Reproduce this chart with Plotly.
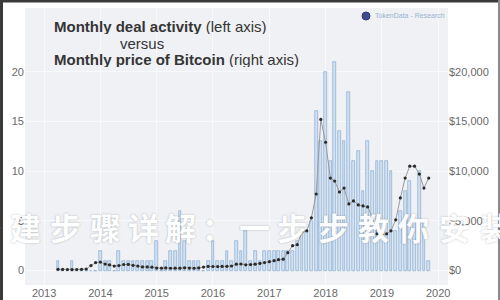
import plotly.graph_objects as go
import pandas as pd

# ---------------- data ----------------
first_month = "2013-04-01"
last_month = "2019-11-01"

deals_2013 = [1, 0, 0, 1, 0, 0, 0, 0, 0]
deals_2014 = [2, 1, 1, 0, 2, 1, 1, 1, 1, 1, 1, 1]
deals_2015 = [3, 0, 1, 2, 2, 6, 3, 1, 1, 1, 0, 1]
deals_2016 = [3, 1, 1, 2, 1, 3, 2, 4, 1, 2, 1, 2]
deals_2017 = [2, 2, 2, 2, 2, 2, 3, 4, 4, 5, 16, 13]
deals_2018 = [20, 11, 21, 14, 13, 18, 11, 12, 8, 13, 10, 11]
deals_2019 = [11, 11, 10, 4, 6, 8, 9, 5, 10, 5, 1]

price_2013 = [130, 120, 110, 90, 110, 130, 160, 500, 800]
price_2014 = [850, 650, 580, 450, 500, 610, 620, 530, 450, 370, 370, 340]
price_2015 = [250, 240, 270, 235, 237, 237, 280, 250, 235, 265, 350, 420]
price_2016 = [410, 400, 415, 430, 460, 640, 660, 580, 605, 640, 720, 800]
price_2017 = [900, 1000, 1100, 1150, 1800, 2500, 2600, 3900, 4000, 5300, 7700, 15200]
price_2018 = [12900, 9300, 9000, 7900, 8300, 6700, 7000, 6600, 6500, 6400, 5300, 3700]
price_2019 = [3600, 3700, 4000, 5100, 7300, 9300, 10500, 10500, 9700, 8300, 9300]

year_ticks = ["2013", "2014", "2015", "2016", "2017", "2018", "2019", "2020"]
left_ticks = [0, 5, 10, 15, 20]
right_ticks = [0, 5000, 10000, 15000, 20000]
right_tick_labels = ["$0", "$5,000", "$10,000", "$15,000", "$20,000"]

title_line1_bold = "Monthly deal activity"
title_line1_rest = " (left axis)"
title_line2 = "versus"
title_line3_bold = "Monthly price of Bitcoin"
title_line3_rest = " (right axis)"
logo_text = "TokenData - Research"
watermark_chars = ["搭", "建", "步", "骤", "详", "解", "：", "一", "步", "步", "教", "你", "安", "装"]

# ---------------- build ----------------
months = pd.date_range(first_month, last_month, freq="MS")
deals = deals_2013 + deals_2014 + deals_2015 + deals_2016 + deals_2017 + deals_2018 + deals_2019
prices = price_2013 + price_2014 + price_2015 + price_2016 + price_2017 + price_2018 + price_2019

W, H = 500, 300
ML, MR, MT, MB = 25, 52, 8, 15
PW, PH = W - ML - MR, H - MT - MB


def px_x(px):
    return (px - ML) / PW


def px_y(py):
    return (H - MB - py) / PH


fig = go.Figure()
fig.add_trace(go.Bar(
    x=months, y=deals, yaxis="y",
    width=18 * 86400000,
    marker=dict(color="#cfe0f1", line=dict(color="#7ea3cc", width=0.6)),
    showlegend=False,
))
fig.add_trace(go.Scatter(
    x=months, y=prices, yaxis="y2", mode="lines+markers",
    line=dict(color="#9a9a9a", width=1),
    marker=dict(color="#2b2b2b", size=3.2),
    showlegend=False,
))

font_txt = "Liberation Sans, Arial, sans-serif"
tick_color = "#6a6a6a"

fig.update_layout(
    width=W, height=H, autosize=False,
    margin=dict(l=ML, r=MR, t=MT, b=MB, pad=0),
    paper_bgcolor="white", plot_bgcolor="#eff1f4",
    font=dict(family=font_txt, color=tick_color, size=11),
    bargap=0,
    xaxis=dict(
        type="date", range=["2012-08-30", "2020-03-05"],
        tickvals=[y + "-01-01" for y in year_ticks], ticktext=year_ticks,
        showgrid=True, gridcolor="#f8f9fb", gridwidth=1,
        zeroline=False, showline=False, ticks="", ticklen=0,
        automargin=False, color=tick_color,
        tickfont=dict(size=11, color=tick_color),
    ),
    yaxis=dict(
        range=[-1.45, 26.4], tickvals=left_ticks,
        showgrid=True, gridcolor="#f8f9fb", gridwidth=1,
        zeroline=False, showline=False, ticks="", automargin=False,
        color=tick_color,
        tickfont=dict(size=11, color=tick_color),
    ),
    yaxis2=dict(
        range=[-1450, 26400], tickvals=right_ticks, ticktext=right_tick_labels,
        overlaying="y", side="right", showgrid=False, zeroline=False,
        showline=False, ticks="", automargin=False, color=tick_color,
        tickfont=dict(size=11, color=tick_color),
    ),
)

ann = []
title_color = "#353535"
ann.append(dict(x=px_x(52), y=px_y(25.5), xref="paper", yref="paper", xanchor="left", yanchor="middle",
                text="<b>" + title_line1_bold + "</b>" + title_line1_rest, showarrow=False, height=16,
                font=dict(family=font_txt, size=15, color=title_color)))
ann.append(dict(x=px_x(141.5), y=px_y(42.5), xref="paper", yref="paper", xanchor="center", yanchor="middle",
                text=title_line2, showarrow=False, height=16,
                font=dict(family=font_txt, size=15, color=title_color)))
ann.append(dict(x=px_x(52), y=px_y(59.5), xref="paper", yref="paper", xanchor="left", yanchor="middle",
                text="<b>" + title_line3_bold + "</b>" + title_line3_rest, showarrow=False, height=16,
                font=dict(family=font_txt, size=15, color=title_color)))
ann.append(dict(x=px_x(373), y=px_y(16), xref="paper", yref="paper", xanchor="left", yanchor="middle",
                text=logo_text, showarrow=False,
                font=dict(family=font_txt, size=7, color="#9bb2d0")))

# watermark characters
wm_centers = [-15, 25, 65, 105, 143, 180, 217, 254, 292, 333, 373, 413, 455, 495]
for ch, cx in zip(watermark_chars, wm_centers):
    ann.append(dict(x=px_x(cx), y=px_y(226), xref="paper", yref="paper", xanchor="center", yanchor="middle",
                    text="<b>" + ch + "</b>", showarrow=False, opacity=0.93,
                    font=dict(family="Noto Sans CJK SC", size=31, color="white",
                              shadow="0px 0px 2px rgba(0,0,0,0.3)")))
fig.update_layout(annotations=ann)

shapes = [
    # logo circle
    dict(type="circle", xref="paper", yref="paper",
         x0=px_x(362), x1=px_x(370), y0=px_y(20), y1=px_y(12),
         fillcolor="#3e4c8c", line=dict(color="#2f3a74", width=1)),
    # frame of screenshot
    dict(type="rect", xref="paper", yref="paper", x0=px_x(0), x1=px_x(500), y0=px_y(2.5), y1=px_y(0),
         fillcolor="#3a3a3a", line=dict(width=0), layer="above"),
    dict(type="rect", xref="paper", yref="paper", x0=px_x(0), x1=px_x(3), y0=px_y(300), y1=px_y(0),
         fillcolor="#3a3a3a", line=dict(width=0), layer="above"),
    dict(type="rect", xref="paper", yref="paper", x0=px_x(498), x1=px_x(500), y0=px_y(300), y1=px_y(0),
         fillcolor="#8a8a8a", line=dict(width=0), layer="above"),
]
fig.update_layout(shapes=shapes)

fig.write_html("out.html")
